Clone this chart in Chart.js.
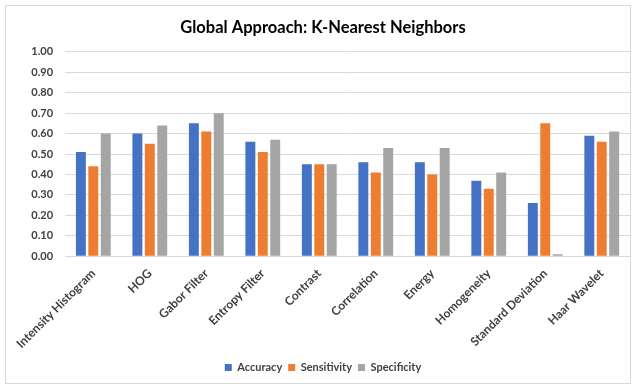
<!DOCTYPE html>
<html>
<head>
<meta charset="utf-8">
<script src="https://cdn.jsdelivr.net/npm/chart.js@4/dist/chart.umd.min.js"></script>
<style>
  html, body { margin: 0; padding: 0; background: #fff; }
  #wrap { position: absolute; left: 5px; top: 5px; width: 624px; height: 377px; border: 1px solid #d9d9d9; }
</style>
</head>
<body>
<div id="wrap"><canvas id="myChart" width="624" height="377"></canvas></div>
<script>
// Feature extraction methods on the x axis
const categories = ['Intensity Histogram', 'HOG', 'Gabor Filter', 'Entropy Filter', 'Contrast',
  'Correlation', 'Energy', 'Homogeneity', 'Standard Deviation', 'Haar Wavelet'];

// Scores per method
const accuracy    = [0.51, 0.60, 0.65, 0.56, 0.45, 0.46, 0.46, 0.37, 0.26, 0.59];
const sensitivity = [0.44, 0.55, 0.61, 0.51, 0.45, 0.41, 0.40, 0.33, 0.65, 0.56];
const specificity = [0.60, 0.64, 0.70, 0.57, 0.45, 0.53, 0.53, 0.41, 0.01, 0.61];

const yTicks = [0, 0.1, 0.2, 0.3, 0.4, 0.5, 0.6, 0.7, 0.8, 0.9, 1.0];

const labelFont = { family: 'Lato', size: 11, weight: 'bold' };

function makeSet(label, data, color) {
    return {
        label: label,
        data: data,
        backgroundColor: color,
        borderWidth: 0,
        barPercentage: 0.8,
        categoryPercentage: 0.66
    };
}

const ctx = document.getElementById('myChart').getContext('2d');
const myChart = new Chart(ctx, {
    type: 'bar',
    data: {
        labels: categories,
        datasets: [
            makeSet('Accuracy', accuracy, '#4472c4'),
            makeSet('Sensitivity', sensitivity, '#ed7d31'),
            makeSet('Specificity', specificity, '#a5a5a5')
        ]
    },
    options: {
        responsive: false,
        animation: false,
        layout: { padding: { left: 10, right: 0, top: 0, bottom: 0 } },
        plugins: {
            title: {
                display: true,
                text: 'Global Approach: K-Nearest Neighbors',
                color: '#000',
                font: { family: 'Lato', size: 16.5, weight: 'bold' },
                padding: { top: 12, bottom: 14 }
            },
            legend: {
                position: 'bottom',
                labels: {
                    color: '#404040',
                    font: labelFont,
                    boxWidth: 7,
                    boxHeight: 7,
                    padding: 6
                }
            },
            tooltip: { enabled: false }
        },
        scales: {
            x: {
                grid: { display: false, drawTicks: false },
                border: { color: '#d9d9d9' },
                // rotated labels reserve a bit more room than they use
                afterFit: (axis) => { axis.height -= 5; },
                ticks: {
                    color: '#404040',
                    font: { family: 'Lato', size: 12, weight: 'bold' },
                    minRotation: 45,
                    maxRotation: 45,
                    padding: 10
                }
            },
            y: {
                min: 0,
                max: 1,
                afterBuildTicks: (axis) => { axis.ticks = yTicks.map(v => ({ value: v })); },
                grid: { color: '#d9d9d9', drawTicks: false },
                border: { display: false },
                ticks: {
                    color: '#404040',
                    font: labelFont,
                    padding: 12,
                    callback: (v) => Number(v).toFixed(2)
                }
            }
        }
    }
});
</script>
</body>
</html>
